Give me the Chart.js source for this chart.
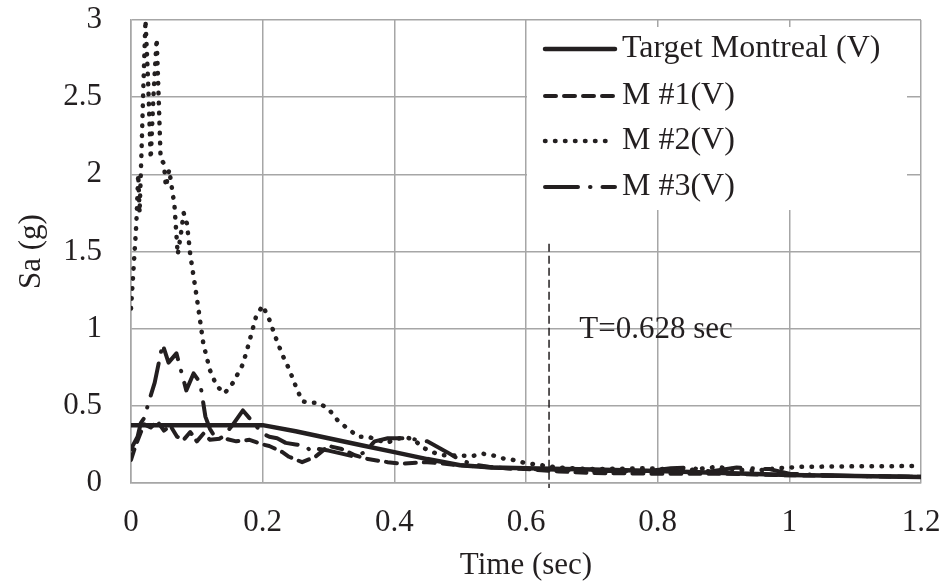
<!DOCTYPE html>
<html>
<head>
<meta charset="utf-8">
<script src="https://cdn.jsdelivr.net/npm/chart.js@4"></script>
<style>
  body { margin: 0; background: #fff; }
  canvas { display: block; }
</style>
</head>
<body>
<canvas id="myChart" width="948" height="586"></canvas>
<script>
"use strict";

// values (period in sec, Sa in g)
const targetT  = [0, 0.2, 0.25, 0.3, 0.35, 0.4, 0.45, 0.5, 0.55, 0.6, 0.7, 0.8, 0.9, 1.0, 1.1, 1.2];
const targetSa = [0.375, 0.375, 0.335, 0.29, 0.245, 0.2, 0.155, 0.115, 0.1, 0.095, 0.087, 0.078, 0.065, 0.052, 0.045, 0.039];

const m1T  = [0, 0.006, 0.015, 0.02, 0.03, 0.04, 0.05, 0.06, 0.07, 0.08, 0.09, 0.1, 0.11, 0.12, 0.14, 0.16, 0.18, 0.2, 0.21, 0.23, 0.24, 0.26, 0.28, 0.3, 0.32, 0.34, 0.36, 0.39, 0.41, 0.45, 0.5, 0.55, 0.6, 0.65, 0.7, 0.8, 0.9, 1.0, 1.1, 1.2];
const m1Sa = [0.15, 0.23, 0.33, 0.38, 0.36, 0.4, 0.34, 0.37, 0.3, 0.28, 0.33, 0.27, 0.32, 0.28, 0.29, 0.27, 0.28, 0.25, 0.24, 0.2, 0.17, 0.135, 0.17, 0.24, 0.22, 0.18, 0.155, 0.135, 0.125, 0.135, 0.115, 0.1, 0.09, 0.075, 0.065, 0.06, 0.06, 0.05, 0.045, 0.04];

const m2T  = [0, 0.004, 0.008, 0.011, 0.013, 0.016, 0.019, 0.022, 0.026, 0.03, 0.034, 0.039, 0.042, 0.045, 0.05, 0.053, 0.058, 0.066, 0.071, 0.076, 0.08, 0.085, 0.09, 0.1, 0.11, 0.12, 0.13, 0.142, 0.155, 0.17, 0.18, 0.19, 0.2, 0.21, 0.22, 0.23, 0.24, 0.25, 0.26, 0.27, 0.285, 0.3, 0.315, 0.33, 0.345, 0.36, 0.388, 0.415, 0.43, 0.443, 0.458, 0.472, 0.519, 0.534, 0.549, 0.564, 0.58, 0.598, 0.65, 0.7, 0.78, 0.85, 0.89, 0.92, 0.95, 0.98, 1.02, 1.1, 1.2];
const m2Sa = [1.13, 1.4, 1.67, 2.0, 1.75, 2.15, 2.6, 3.0, 2.6, 2.1, 2.5, 2.88, 2.5, 2.1, 2.07, 1.92, 2.03, 1.8, 1.48, 1.62, 1.75, 1.68, 1.48, 1.2, 0.9, 0.73, 0.63, 0.58, 0.65, 0.77, 0.92, 1.08, 1.15, 1.06, 0.94, 0.83, 0.74, 0.63, 0.53, 0.52, 0.52, 0.48, 0.4, 0.35, 0.3, 0.3, 0.26, 0.3, 0.28, 0.23, 0.2, 0.18, 0.175, 0.19, 0.18, 0.16, 0.15, 0.13, 0.1, 0.09, 0.095, 0.085, 0.105, 0.085, 0.08, 0.095, 0.105, 0.108, 0.11];

const m3T  = [0, 0.01, 0.015, 0.02, 0.028, 0.036, 0.048, 0.057, 0.069, 0.084, 0.095, 0.105, 0.113, 0.12, 0.13, 0.14, 0.155, 0.17, 0.19, 0.2, 0.21, 0.222, 0.235, 0.25, 0.265, 0.275, 0.285, 0.3, 0.32, 0.34, 0.355, 0.37, 0.39, 0.42, 0.45, 0.48, 0.5, 0.52, 0.55, 0.6, 0.7, 0.78, 0.82, 0.85, 0.88, 0.92, 0.97, 1.0, 1.1, 1.2];
const m3Sa = [0.22, 0.3, 0.39, 0.42, 0.54, 0.65, 0.9, 0.78, 0.84, 0.6, 0.71, 0.65, 0.43, 0.35, 0.28, 0.3, 0.38, 0.47, 0.37, 0.32, 0.3, 0.29, 0.26, 0.25, 0.24, 0.2, 0.22, 0.21, 0.19, 0.17, 0.2, 0.27, 0.29, 0.29, 0.27, 0.2, 0.15, 0.12, 0.1, 0.09, 0.08, 0.075, 0.095, 0.1, 0.075, 0.1, 0.09, 0.06, 0.045, 0.04];

const seriesNames = ["Target Montreal (V)", "M #1(V)", "M #2(V)", "M #3(V)"];
const xTicks = [0, 0.2, 0.4, 0.6, 0.8, 1, 1.2];
const yTicks = [0, 0.5, 1, 1.5, 2, 2.5, 3];

const periodLine = 0.635;   // where the dashed line sits in the picture
const periodTop = 1.55;
const periodText = "T=0.628 sec";

const ink = "#231f20";
const gridColor = "#a6a6a6";
const serif = "'Liberation Serif', 'Times New Roman', serif";

function pairs(xs, ys) {
    return xs.map((x, i) => ({ x: x, y: ys[i] }));
}

const styles = [
    { width: 4.5, dash: [] },
    { width: 4, dash: [11, 8] },
    { width: 4.5, dash: [0.5, 9.5] },
    { width: 4, dash: [33, 12, 0.5, 12] }
];

const allData = [pairs(targetT, targetSa), pairs(m1T, m1Sa), pairs(m2T, m2Sa), pairs(m3T, m3Sa)];

const datasets = allData.map((d, i) => ({
    label: seriesNames[i],
    data: d,
    borderColor: ink,
    borderWidth: styles[i].width,
    borderDash: styles[i].dash,
    borderCapStyle: "round",
    borderJoinStyle: "round",
    pointRadius: 0,
    tension: 0,
    fill: false
}));

// legend box with white fill + the T marker
const extras = {
    id: "extras",
    afterDatasetsDraw(chart) {
        const ctx = chart.ctx;
        const xs = chart.scales.x, ys = chart.scales.y;

        ctx.save();
        ctx.strokeStyle = ink;
        ctx.lineWidth = 1.5;
        ctx.setLineDash([8, 4]);
        const px = xs.getPixelForValue(periodLine);
        ctx.beginPath();
        ctx.moveTo(px, ys.getPixelForValue(periodTop));
        ctx.lineTo(px, ys.getPixelForValue(0) + 5);
        ctx.stroke();
        ctx.setLineDash([]);

        ctx.fillStyle = ink;
        ctx.font = "31px " + serif;
        ctx.textBaseline = "middle";
        ctx.textAlign = "left";
        ctx.fillText(periodText, xs.getPixelForValue(0.681), ys.getPixelForValue(0.99));

        // legend
        ctx.fillStyle = "#fff";
        ctx.fillRect(527, 27, 380, 183);
        ctx.font = "32px " + serif;
        const rows = [49, 96, 141, 187];
        seriesNames.forEach((name, i) => {
            ctx.strokeStyle = ink;
            ctx.lineWidth = styles[i].width;
            ctx.lineCap = "round";
            ctx.setLineDash(styles[i].dash);
            ctx.beginPath();
            ctx.moveTo(545, rows[i]);
            ctx.lineTo(615, rows[i]);
            ctx.stroke();
            ctx.setLineDash([]);
            ctx.fillStyle = ink;
            ctx.fillText(name, 622, rows[i]);
        });
        ctx.restore();
    }
};

new Chart("myChart", {
    type: "line",
    data: { datasets: datasets },
    plugins: [extras],
    options: {
        responsive: false,
        animation: false,
        layout: { padding: { top: 20, right: 27, left: 0, bottom: 0 } },
        plugins: {
            legend: { display: false },
            tooltip: { enabled: false }
        },
        scales: {
            x: {
                type: "linear",
                min: 0,
                max: 1.2,
                afterFit: (s) => {
                    s.height = 103;
                    s.paddingLeft = 0;
                    s.paddingRight = 0;
                },
                afterBuildTicks: (s) => { s.ticks = xTicks.map(v => ({ value: v })); },
                grid: { color: gridColor, lineWidth: 1.5, drawTicks: false },
                border: { color: gridColor, width: 1.5 },
                ticks: {
                    padding: 21,
                    color: ink,
                    font: { family: serif, size: 31 },
                    maxRotation: 0,
                    callback: (v) => String(Number(v.toFixed(1)))
                },
                title: {
                    display: true,
                    text: "Time (sec)",
                    color: ink,
                    font: { family: serif, size: 31 },
                    padding: { top: 0, bottom: 2 }
                }
            },
            y: {
                min: 0,
                max: 3,
                afterFit: (s) => {
                    s.width = 131;
                    s.paddingTop = 0;
                    s.paddingBottom = 0;
                },
                afterBuildTicks: (s) => { s.ticks = yTicks.map(v => ({ value: v })); },
                grid: { color: gridColor, lineWidth: 1.5, drawTicks: false },
                border: { color: gridColor, width: 1.5 },
                ticks: {
                    padding: 29,
                    color: ink,
                    font: { family: serif, size: 31 },
                    callback: (v) => String(v)
                },
                title: {
                    display: true,
                    text: "Sa (g)",
                    color: ink,
                    font: { family: serif, size: 31 },
                    padding: { top: 13, bottom: 0 }
                }
            }
        }
    }
});
</script>
</body>
</html>
